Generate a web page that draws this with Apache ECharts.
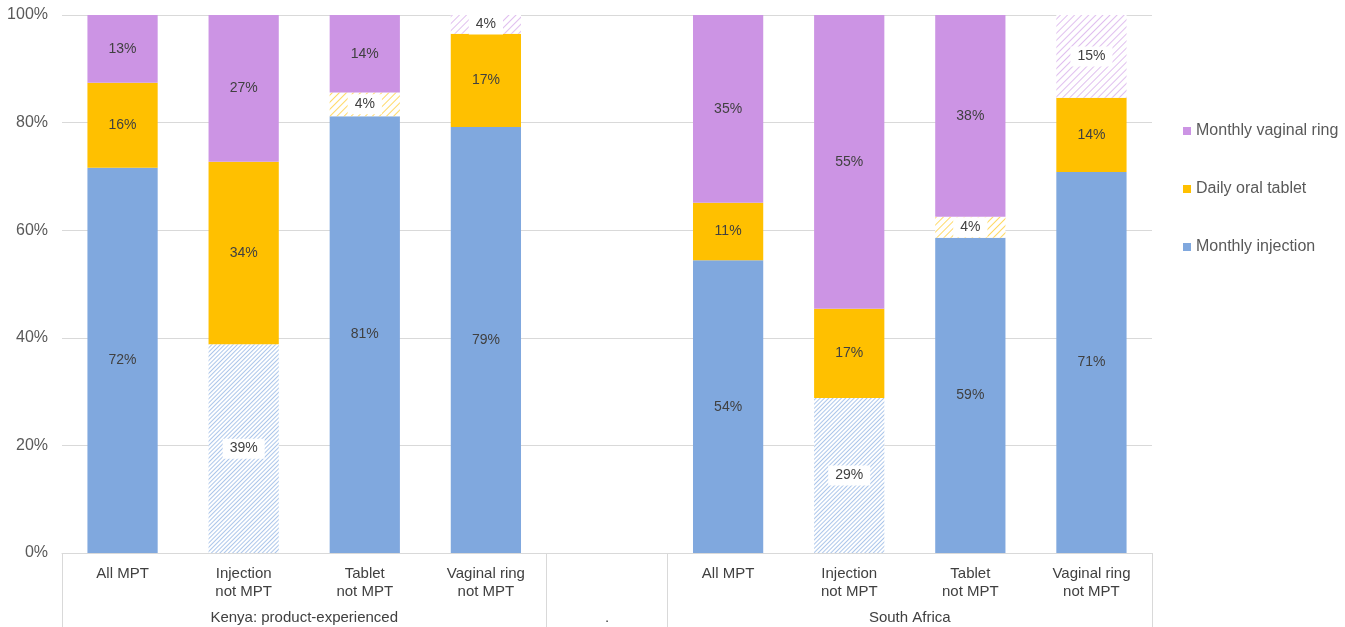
<!DOCTYPE html>
<html>
<head>
<meta charset="utf-8">
<script src="https://cdn.jsdelivr.net/npm/echarts@6/dist/echarts.min.js"></script>
<style>
  html, body { margin: 0; padding: 0; background: #fff; }
  #chart { width: 1345px; height: 627px; }
</style>
</head>
<body>
<div id="chart"></div>
<script>
const categories = ["All MPT", "Injection\nnot MPT", "Tablet\nnot MPT", "Vaginal ring\nnot MPT", "",
  "All MPT", "Injection\nnot MPT", "Tablet\nnot MPT", "Vaginal ring\nnot MPT"];
const groupLabels = ["Kenya: product-experienced", ".", "South Africa"];
const injection = [71.6, 38.8, 81.2, 79.2, null, 54.4, 28.8, 58.6, 70.8];
const tablet = [15.8, 33.9, 4.4, 17.3, null, 10.7, 16.6, 3.9, 13.8];
const ring = [12.6, 27.3, 14.4, 3.5, null, 34.9, 54.6, 37.5, 15.4];
// cells drawn hatched (not MPT)
const hatchInjection = [1, 6];
const hatchTablet = [2, 7];
const hatchRing = [3, 8];

const BLUE = "#80a8de";
const YELLOW = "#ffc000";
const PURPLE = "#cc94e4";
const TXT = "#404040";

function buildData(values, hatched, hatchColor, gap) {
  return values.map((v, i) => {
    if (hatched.indexOf(i) < 0) return v;
    return {
      value: v,
      itemStyle: {
        color: "#ffffff",
        decal: {
          symbol: "rect",
          symbolSize: 1,
          color: hatchColor,
          dashArrayX: [1, 0],
          dashArrayY: [1, gap],
          rotation: -Math.PI / 4
        }
      },
      label: { backgroundColor: "#ffffff", padding: [3, 7] }
    };
  });
}

function makeSeries(name, values, hatched, color, hatchColor, gap) {
  return {
    name: name,
    type: "bar",
    stack: "total",
    barWidth: "58%",
    itemStyle: { color: color },
    label: {
      show: true,
      position: "inside",
      color: TXT,
      fontSize: 14,
      formatter: p => Math.round(p.value) + "%"
    },
    data: buildData(values, hatched, hatchColor, gap)
  };
}

const chart = echarts.init(document.getElementById("chart"));
chart.setOption({
  animation: false,
  textStyle: { fontFamily: "Liberation Sans, Arial, sans-serif" },
  grid: { left: 62, right: 193, top: 15, bottom: 74 },
  legend: {
    orient: "vertical",
    left: 1178,
    top: 118,
    itemWidth: 8,
    itemHeight: 8,
    itemGap: 42,
    icon: "rect",
    textStyle: { color: "#595959", fontSize: 16 },
    data: ["Monthly vaginal ring", "Daily oral tablet", "Monthly injection"]
  },
  xAxis: [
    {
      type: "category",
      data: categories,
      axisLine: { lineStyle: { color: "#d9d9d9" } },
      axisTick: { show: false },
      axisLabel: { color: TXT, fontSize: 15, margin: 12, lineHeight: 18, interval: 0 }
    },
    {
      type: "value",
      position: "bottom",
      min: 0,
      max: 9,
      axisLine: { show: false },
      splitLine: { show: false },
      axisTick: {
        show: true,
        length: 74,
        customValues: [0, 4, 5, 9],
        lineStyle: { color: "#d9d9d9" }
      },
      axisLabel: {
        color: TXT,
        fontSize: 15,
        margin: 57,
        customValues: [2, 4.5, 7],
        formatter: v => v === 2 ? groupLabels[0] : (v === 4.5 ? groupLabels[1] : groupLabels[2])
      }
    }
  ],
  yAxis: {
    type: "value",
    min: 0,
    max: 100,
    interval: 20,
    axisLine: { show: false },
    axisTick: { show: false },
    splitLine: { lineStyle: { color: "#d9d9d9" } },
    axisLabel: { color: "#595959", fontSize: 16, margin: 14, formatter: "{value}%" }
  },
  series: [
    makeSeries("Monthly injection", injection, hatchInjection, BLUE, "rgba(128,168,222,0.65)", 2),
    makeSeries("Daily oral tablet", tablet, hatchTablet, YELLOW, "rgba(255,192,0,0.6)", 4),
    makeSeries("Monthly vaginal ring", ring, hatchRing, PURPLE, "rgba(204,148,228,0.6)", 4)
  ]
});
</script>
</body>
</html>
